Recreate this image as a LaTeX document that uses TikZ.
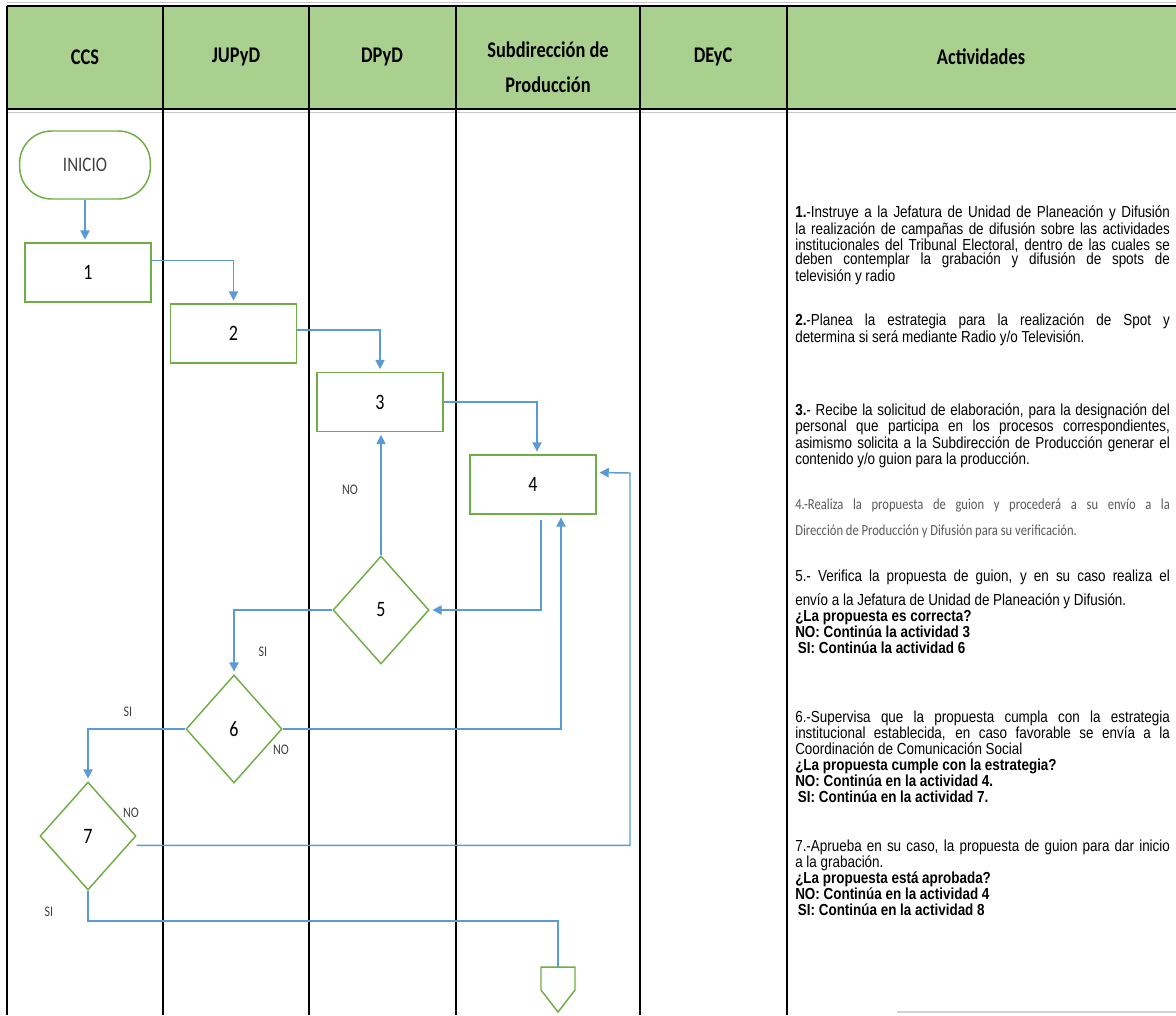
\documentclass[tikz,border=0pt]{standalone}
\usepackage{fontspec}
\setmainfont{Carlito}
\newfontfamily\calfont[FakeStretch=0.82]{Carlito}
\newfontfamily\actfont[FakeStretch=0.84]{Liberation Sans}
\usepackage{xcolor}
\usepackage{tikz}
\usetikzlibrary{positioning,shapes.geometric,arrows.meta}

\definecolor{hdrgreen}{HTML}{A9D08E}
\definecolor{boxgreen}{HTML}{70AD47}
\definecolor{flowblue}{HTML}{5B9BD5}
\definecolor{lblgray}{HTML}{404040}
\definecolor{actgray}{HTML}{595959}

\newcommand{\actsetup}{\lineskiplimit=-20pt \tolerance=10000 \hyphenpenalty=10000 \vrule width 0pt height 10pt depth 0pt\relax}

\begin{document}
\begin{tikzpicture}[
            x=0.75pt, y=-0.75pt,
            hdr/.style={font=\calfont\bfseries\fontsize{16.8}{26}\selectfont, align=center, inner sep=0pt},
            proc/.style={rectangle, draw=boxgreen, line width=1.1pt, minimum width=94.5pt, minimum height=44.25pt, inner sep=0pt, font=\calfont\fontsize{16.5}{18}\selectfont},
            decision/.style={diamond, draw=boxgreen, line width=1.1pt, minimum width=72pt, minimum height=81pt, inner sep=0pt, font=\calfont\fontsize{16.5}{18}\selectfont},
            startnode/.style={rectangle, rounded corners=24pt, draw=boxgreen, line width=1.1pt, minimum width=98pt, minimum height=51pt, inner sep=0pt, text=lblgray, font=\calfont\fontsize{15.5}{18}\selectfont},
            lbl/.style={inner sep=0pt, text=lblgray, font=\calfont\fontsize{11}{13}\selectfont},
            flowline/.style={draw=flowblue, line width=1.1pt},
            flowarrow/.style={flowline, -{Triangle[length=7pt,width=7pt]}, shorten >=2pt},
            act/.style={anchor=north west, inner sep=0pt, text width=281pt, align=justify,
                font=\actfont\fontsize{12}{10.9}\selectfont},
            actb/.style={act, font=\actfont\fontsize{12}{12}\selectfont},
            actc/.style={act, text=actgray, font=\calfont\fontsize{11.5}{19.5}\selectfont}
        ]
            \useasboundingbox (0,0) rectangle (1176,1015);
            % Lanes
            \fill[hdrgreen] (7,6) rectangle (1176,109);
            \draw[gray!45, line width=1pt] (7,2.5) -- (1176,2.5);
            \draw[line width=1pt] (7,6) -- (1176,6);
            \draw[line width=1.4pt] (7,109) -- (1176,109);
            \draw[gray!45, line width=0.8pt] (7,112.5) -- (1176,112.5);
            \foreach \x in {7,163,309,456,640,787}
                \draw[line width=1.1pt] (\x,6) -- (\x,1015);
            \draw[gray!35, line width=1pt] (897,1012) -- (1176,1012);

            \node[hdr] (hccs) at (85,57) {CCS};
            \node[hdr] (hjupyd) at (236,57) {JUPyD};
            \node[hdr] (hdpyd) at (382,57) {DPyD};
            \node[hdr] (hsub) at (548,67) {Subdirección de\\Producción};
            \node[hdr] (hdeyc) at (713,57) {DEyC};
            \node[hdr] (hact) at (981,57) {Actividades};

            % Vertices
            \node[startnode] (inicio) at (85,165) {INICIO};
            \node[proc] (b1) at (88,272.5) {1};
            \node[proc] (b2) at (233.5,333.5) {2};
            \node[proc] (b3) at (380,402) {3};
            \node[proc] (b4) at (533,484.5) {4};
            \node[decision] (d5) at (381,610) {5};
            \node[decision] (d6) at (234,729) {6};
            \node[decision] (d7) at (88,836) {7};
            \coordinate (fin) at (558,967);
            \draw[boxgreen, line width=1.1pt] (541,967) -- (575,967) -- (575,990) -- (558,1012) -- (541,990) -- cycle;
            \coordinate (r4) at (630,473);
            \coordinate (sibend) at (88,921);

            % Edges
            \draw[flowarrow] (inicio.south) -- (inicio.south |- b1.north); % INICIO -> 1
            \draw[flowarrow] ([yshift=9pt]b1.east) -| (b2.north); % 1 -> 2
            \draw[flowarrow] ([yshift=2.5pt]b2.east) -| (b3.north); % 2 -> 3
            \draw[flowarrow] (b3.east) -| ([xshift=3pt]b4.north); % 3 -> 4
            \draw[flowarrow, shorten <=4pt] ([xshift=6pt]b4.south) |- (d5.east); % 4 -> 5
            \draw[flowarrow] (d5.north) -- (d5.north |- b3.south); % 5 -> 3 (NO)
            \draw[flowarrow] (d5.west) -| (d6.north); % 5 -> 6 (SI)
            \draw[flowarrow] (d6.west) -| (d7.north); % 6 -> 7 (SI)
            \draw[flowarrow] (d6.east) -| ([xshift=21pt]b4.south); % 6 -> 4 (NO)
            \draw[flowarrow] ([yshift=-7pt]d7.east) -| (r4) -- ([yshift=9pt]b4.east); % 7 -> 4 (NO)
            \draw[flowline] (d7.south) -- (sibend) -| (fin); % 7 -> fin (SI)

            % Labels
            \node[lbl] (lno5) at (350,490) {NO};
            \node[lbl] (lsi5) at (263,652) {SI};
            \node[lbl] (lsi6) at (128,712) {SI};
            \node[lbl] (lno6) at (281,750) {NO};
            \node[lbl] (lno7) at (131,813) {NO};
            \node[lbl] (lsi7) at (49,912) {SI};

            % Activities
            \node[act] (a1) at (795,204) {\actsetup\textbf{1.}-Instruye a la Jefatura de Unidad de Planeación y Difusión\linebreak la realización de campañas de difusión sobre las actividades\linebreak institucionales del Tribunal Electoral, dentro de las cuales se\linebreak deben contemplar la grabación y difusión de spots de\linebreak televisión y radio};
            \node[act] (a2) at (795,312) {\actsetup\textbf{2.}-Planea la estrategia para la realización de Spot y\linebreak determina si será mediante Radio y/o Televisión.};
            \node[act] (a3) at (795,402) {\actsetup\textbf{3.}- Recibe la solicitud de elaboración, para la designación del\linebreak personal que participa en los procesos correspondientes,\linebreak asimismo solicita a la Subdirección de Producción generar el\linebreak contenido y/o guion para la producción.};
            \node[actc] (a4) at (795,496) {\actsetup 4.-Realiza la propuesta de guion y procederá a su envío a la\linebreak Dirección de Producción y Difusión para su verificación.};
            \node[actb] (a5) at (795,568) {\actsetup 5.- Verifica la propuesta de guion, y en su caso realiza el\vadjust{\vskip6pt}\linebreak envío a la Jefatura de Unidad de Planeación y Difusión.\par
                \textbf{¿La propuesta es correcta?}\par
                \textbf{NO: Continúa la actividad 3}\par
                \hspace*{2pt}\textbf{SI: Continúa la actividad 6}};
            \node[actb] (a6) at (795,709) {\actsetup 6.-Supervisa que la propuesta cumpla con la estrategia\linebreak institucional establecida, en caso favorable se envía a la\linebreak Coordinación de Comunicación Social\par
                \textbf{¿La propuesta cumple con la estrategia?}\par
                \textbf{NO: Continúa en la actividad 4.}\par
                \hspace*{2pt}\textbf{SI: Continúa en la actividad 7.}};
            \node[actb] (a7) at (795,838) {\actsetup 7.-Aprueba en su caso, la propuesta de guion para dar inicio\linebreak a la grabación.\par
                \textbf{¿La propuesta está aprobada?}\par
                \textbf{NO: Continúa en la actividad 4}\par
                \hspace*{2pt}\textbf{SI: Continúa en la actividad 8}};
        \end{tikzpicture}
\end{document}
